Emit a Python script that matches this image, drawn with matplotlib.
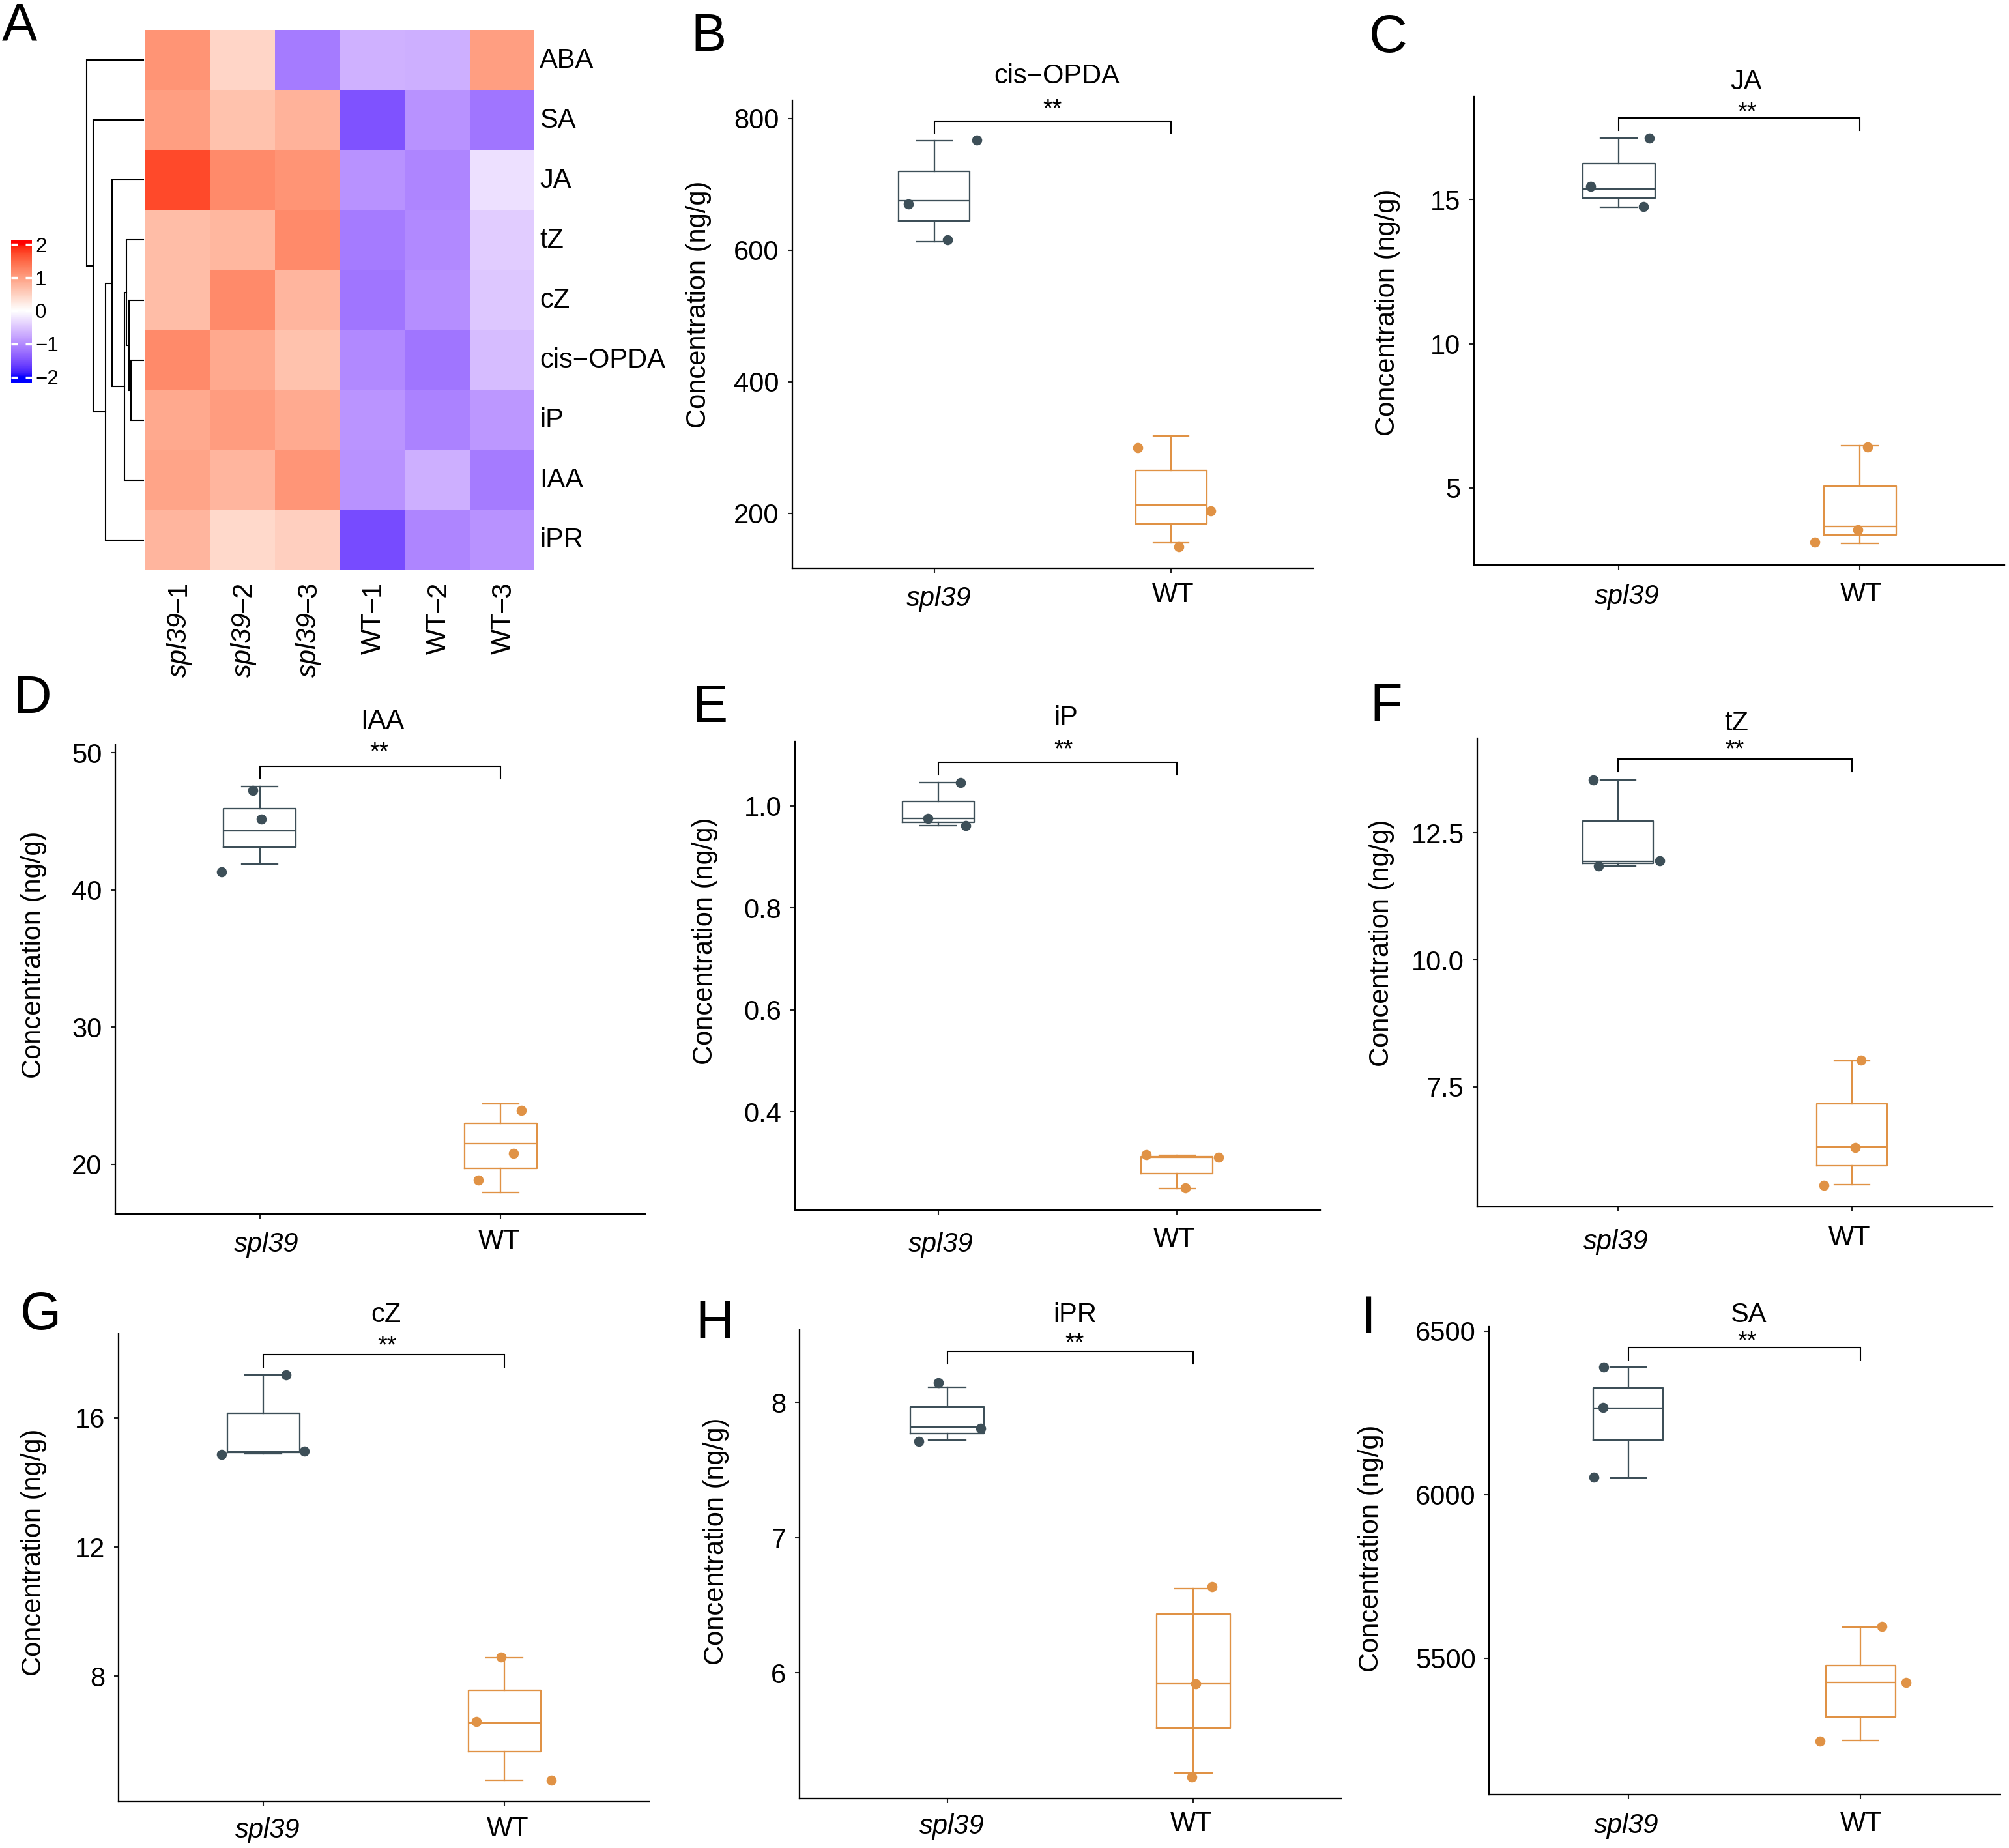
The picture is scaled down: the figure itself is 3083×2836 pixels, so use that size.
import matplotlib
matplotlib.use("Agg")
import matplotlib.pyplot as plt
import numpy as np
from matplotlib.colors import LinearSegmentedColormap, to_rgb
from matplotlib.transforms import ScaledTranslation, blended_transform_factory

plt.rcParams['font.family'] = ['Liberation Sans', 'DejaVu Sans']

W, H, DPI = 3083, 2836, 300

# ---- heatmap data (z-scores)
hormones = ['ABA', 'SA', 'JA', 'tZ', 'cZ', 'cis−OPDA', 'iP', 'IAA', 'iPR']
sample_names = ['spl39', 'spl39', 'spl39', 'WT', 'WT', 'WT']
sample_reps = ['−1', '−2', '−3', '−1', '−2', '−3']
aba = [1.10, 0.45, -1.15, -0.68, -0.70, 1.00]
sa = [1.00, 0.65, 0.80, -1.50, -0.95, -1.20]
ja = [1.72, 1.20, 1.10, -0.95, -1.05, -0.27]
tz = [0.70, 0.75, 1.20, -1.15, -1.02, -0.45]
cz = [0.70, 1.20, 0.78, -1.20, -0.97, -0.50]
opda = [1.20, 0.90, 0.65, -1.02, -1.20, -0.58]
ip = [0.90, 1.03, 0.88, -0.93, -1.08, -0.90]
iaa = [0.95, 0.78, 1.08, -0.95, -0.70, -1.15]
ipr = [0.78, 0.42, 0.50, -1.55, -1.05, -0.95]

# dendrogram: (child a, child b, height); children >= 9 are earlier merges
tree_a = [5, 4, 3, 9 + 2, 2, 8, 1, 0]
tree_b = [6, 9 + 0, 9 + 1, 7, 9 + 3, 9 + 4, 9 + 5, 9 + 6]
tree_h = [0.28, 0.32, 0.38, 0.43, 0.71, 0.86, 1.14, 1.29]

legend_ticks = [2, 1, 0, -1, -2]
legend_labels = ['2', '1', '0', '−1', '−2']

# ---- boxplot data, panels B to I
panel_titles = ['cis−OPDA', 'JA', 'IAA', 'iP', 'tZ', 'cZ', 'iPR', 'SA']
groups = ['spl39', 'WT']
# whisker low, q1, median, q3, whisker high
spl39_box = [
    [612.8, 644, 675, 720, 766],
    [14.74, 15.05, 15.38, 16.26, 17.13],
    [41.9, 43.1, 44.3, 45.91, 47.55],
    [0.961, 0.968, 0.975, 1.009, 1.045],
    [11.85, 11.90, 11.945, 12.74, 13.55],
    [14.89, 14.92, 14.95, 16.13, 17.33],
    [7.723, 7.771, 7.819, 7.965, 8.109],
    [6052, 6167, 6265, 6326, 6389],
]
wt_box = [
    [155, 184, 212.6, 265, 318],
    [3.07, 3.37, 3.66, 5.06, 6.47],
    [17.93, 19.7, 21.5, 22.98, 24.42],
    [0.249, 0.279, 0.311, 0.312, 0.314],
    [5.57, 5.94, 6.32, 7.17, 8.01],
    [4.77, 5.66, 6.55, 7.57, 8.58],
    [5.26, 5.59, 5.92, 6.434, 6.622],
    [5249, 5321, 5426, 5478, 5596],
]
# jittered points
spl39_x = [[0.889, 1.056, 1.178], [0.883, 1.103, 1.127], [0.972, 1.007, 0.840],
           [1.092, 0.957, 1.116], [0.894, 0.918, 1.179], [1.095, 0.826, 1.171],
           [0.963, 1.135, 0.885], [0.894, 0.892, 0.851]]
spl39_y = [[670, 615.8, 767], [15.47, 14.75, 17.14], [47.27, 45.14, 41.3],
           [1.045, 0.975, 0.961], [13.55, 11.85, 11.95], [17.33, 14.86, 14.96],
           [8.146, 7.809, 7.713], [6390, 6266, 6053]]
wt_x = [[1.859, 2.167, 2.033], [2.033, 1.991, 1.814], [2.086, 2.053, 1.907],
        [1.872, 2.174, 2.035], [2.039, 2.014, 1.881], [1.986, 1.884, 2.195],
        [2.076, 2.010, 1.993], [2.093, 2.197, 1.826]]
wt_y = [[299.6, 204, 149], [6.43, 3.56, 3.13], [23.93, 20.79, 18.85],
        [0.316, 0.310, 0.251], [8.03, 6.30, 5.56], [8.59, 6.60, 4.78],
        [6.638, 5.92, 5.229], [5597, 5427, 5248]]
bracket_top = [796, 17.83, 49.0, 1.085, 13.955, 17.95, 8.378, 6450]
bracket_low = [777.6, 17.41, 48.12, 1.061, 13.71, 17.57, 8.285, 6412]
y_limits = [(116.6, 827.6), (2.33, 18.58), (16.37, 50.58), (0.207, 1.126),
            (5.137, 14.366), (4.11, 18.6), (5.072, 8.535), (5084, 6513)]
y_ticks = [[200, 400, 600, 800], [5, 10, 15], [20, 30, 40, 50], [0.4, 0.6, 0.8, 1.0],
           [7.5, 10, 12.5], [8, 12, 16], [6, 7, 8], [5500, 6000, 6500]]
y_tick_labels = [['200', '400', '600', '800'], ['5', '10', '15'], ['20', '30', '40', '50'],
                 ['0.4', '0.6', '0.8', '1.0'], ['7.5', '10.0', '12.5'], ['8', '12', '16'],
                 ['6', '7', '8'], ['5500', '6000', '6500']]

# ---- layout in pixels of the reference
axes_px = [(1216, 154, 2015, 872), (2262, 148, 3076, 867), (177, 1143, 990, 1863),
           (1220, 1138, 2026, 1857), (2267, 1133, 3058, 1852), (182, 2047, 996, 2765),
           (1227, 2041, 2058, 2760), (2285, 2036, 3069, 2754)]
title_px = [(1622, 128), (2680, 137), (587, 1118), (1636, 1113),
            (2665, 1121), (592, 2029), (1650, 2029), (2683, 2029)]
stars_px = [(1615, 156), (2681, 161), (582, 1143), (1632, 1139),
            (2662, 1139), (594, 2054), (1649, 2050), (2681, 2047)]
ylabel_px = [(1072, 467), (2129, 479), (52, 1465), (1082, 1444),
             (2120, 1447), (52, 2382), (1099, 2365), (2104, 2376)]
# x offset of the spl39 / WT labels, gap below the axis, extra drop of spl39
spl39_dx = [7, 13, 10, 4, -3, 7, 7, -3]
wt_dx = [3, 2, -2, -4, -4, 5, -3, 1]
label_gap = [21, 25, 22, 25, 28, 22, 19, 25]
spl39_drop = [6, 4, 5, 8, 6, 2, 4, 3]
letters = ['A', 'B', 'C', 'D', 'E', 'F', 'G', 'H', 'I']
letters_px = [(3, 62), (1060, 78), (2101, 80), (20, 1094), (1062, 1108),
              (2102, 1106), (31, 2040), (1067, 2053), (2088, 2046)]

SLATE = '#3D4F58'
ORANGE = '#E09245'


def axes_from_px(fig, left, top, right, bottom):
    return fig.add_axes([left / W, 1 - bottom / H, (right - left) / W, (bottom - top) / H])


def srgb_to_lab(c):
    c = np.array(to_rgb(c))
    lin = np.where(c > 0.04045, ((c + 0.055) / 1.055) ** 2.4, c / 12.92)
    m = np.array([[0.4124, 0.3576, 0.1805], [0.2126, 0.7152, 0.0722], [0.0193, 0.1192, 0.9505]])
    xyz = m @ lin / np.array([0.9505, 1.0, 1.089])
    f = np.where(xyz > 0.008856, np.cbrt(xyz), 7.787 * xyz + 16 / 116)
    return np.array([116 * f[1] - 16, 500 * (f[0] - f[1]), 200 * (f[1] - f[2])])


def lab_to_srgb(lab):
    fy = (lab[0] + 16) / 116
    f = np.array([fy + lab[1] / 500, fy, fy - lab[2] / 200])
    xyz = np.where(f ** 3 > 0.008856, f ** 3, (f - 16 / 116) / 7.787) * np.array([0.9505, 1.0, 1.089])
    m = np.array([[3.2406, -1.5372, -0.4986], [-0.9689, 1.8758, 0.0415], [0.0557, -0.2040, 1.0570]])
    lin = np.clip(m @ xyz, 0, 1)
    return np.where(lin > 0.0031308, 1.055 * lin ** (1 / 2.4) - 0.055, 12.92 * lin)


# blue - white - red ramp, interpolated in Lab like the original heatmap
lab_blue, lab_white, lab_red = srgb_to_lab('#0000FF'), srgb_to_lab('#FFFFFF'), srgb_to_lab('#FF0000')
ramp = [lab_to_srgb(lab_blue + t * (lab_white - lab_blue)) for t in np.linspace(0, 1, 64)]
ramp += [lab_to_srgb(lab_white + t * (lab_red - lab_white)) for t in np.linspace(0, 1, 64)]
cmap = LinearSegmentedColormap.from_list('bwr_lab', ramp, N=256)

fig = plt.figure(figsize=(W / DPI, H / DPI), dpi=DPI, facecolor='white')

# ---- panel A heatmap
heat_ax = axes_from_px(fig, 223, 46, 820, 875)
matrix = np.array([aba, sa, ja, tz, cz, opda, ip, iaa, ipr])
heat_ax.pcolormesh(matrix, cmap=cmap, vmin=-2, vmax=2, linewidth=0, rasterized=True)
heat_ax.set_ylim(len(hormones), 0)
heat_ax.set_yticks(np.arange(len(hormones)) + 0.5, hormones, fontsize=10)
heat_ax.yaxis.tick_right()
heat_ax.tick_params(axis='y', length=0, pad=2)
for row_label in heat_ax.get_yticklabels():
    row_label.set_transform(row_label.get_transform() + ScaledTranslation(0, 4 / DPI, fig.dpi_scale_trans))
heat_ax.set_xticks([])
for side in heat_ax.spines.values():
    side.set_visible(False)

# column labels: italic line name + upright replicate, reading upwards
renderer = fig.canvas.get_renderer()
col_trans = blended_transform_factory(heat_ax.transData, fig.transFigure)
col_trans = col_trans + ScaledTranslation(13 / DPI, 0, fig.dpi_scale_trans)
label_end = 1 - 892 / H
for i, (name, rep) in enumerate(zip(sample_names, sample_reps)):
    rep_text = heat_ax.text(i + 0.5, label_end, rep, transform=col_trans, rotation=90, fontsize=10,
                            ha='right', va='baseline', rotation_mode='anchor', clip_on=False)
    rep_len = rep_text.get_window_extent(renderer).height
    heat_ax.text(i + 0.5, label_end - rep_len / H, name, transform=col_trans, rotation=90, fontsize=10,
                 style='italic' if name == 'spl39' else 'normal',
                 ha='right', va='baseline', rotation_mode='anchor', clip_on=False)

# dendrogram, built from the merge table
tree_ax = axes_from_px(fig, 133, 46, 220, 875)
tree_ax.set_xlim(max(tree_h), 0)
tree_ax.set_ylim(len(hormones), 0)
tree_ax.axis('off')
nodes = [(0.0, i + 0.5) for i in range(len(hormones))]
for a, b, h in zip(tree_a, tree_b, tree_h):
    xa, ya = nodes[a]
    xb, yb = nodes[b]
    tree_ax.plot([xa, h, h, xb], [ya, ya, yb, yb], color='black', lw=0.5, clip_on=False,
                 solid_joinstyle='miter')
    nodes.append((h, (ya + yb) / 2))

# colour key
key_ax = axes_from_px(fig, 17, 368, 49, 587)
key_values = np.linspace(2.14, -2.16, 256).reshape(-1, 1)
key_ax.imshow(key_values, cmap=cmap, vmin=-2, vmax=2, aspect='auto', extent=(0, 1, -2.16, 2.14))
key_ax.set_xticks([])
key_ax.set_yticks(legend_ticks, legend_labels, fontsize=7.5)
key_ax.yaxis.tick_right()
key_ax.tick_params(axis='y', direction='in', left=True, right=True, color='white',
                   length=2.5, width=0.8, pad=1.2)
for side in key_ax.spines.values():
    side.set_visible(False)

# ---- panels B to I
for i, title in enumerate(panel_titles):
    ax = axes_from_px(fig, *axes_px[i])
    for pos, box, col in ((1, spl39_box[i], SLATE), (2, wt_box[i], ORANGE)):
        lo, q1, med, q3, hi = box
        stats = [{'whislo': lo, 'q1': q1, 'med': med, 'q3': q3, 'whishi': hi, 'fliers': []}]
        line = {'color': col, 'linewidth': 0.55}
        ax.bxp(stats, positions=[pos], widths=0.3, capwidths=0.15, showfliers=False,
               boxprops=line, medianprops=line, whiskerprops=line, capprops=line, manage_ticks=False)
    ax.scatter(spl39_x[i], spl39_y[i], s=14, color=SLATE, linewidths=0, zorder=4, clip_on=False)
    ax.scatter(wt_x[i], wt_y[i], s=14, color=ORANGE, linewidths=0, zorder=4, clip_on=False)
    if title == 'iPR':
        # the whisker runs through the WT box in this panel
        ax.plot([2, 2], [wt_box[i][1], wt_box[i][3]], color=ORANGE, lw=0.55)

    ax.plot([1, 1, 2, 2], [bracket_low[i], bracket_top[i], bracket_top[i], bracket_low[i]],
            color='black', lw=0.5, solid_joinstyle='miter', clip_on=False)

    ax.set_xlim(0.4, 2.6)
    ax.set_ylim(*y_limits[i])
    ax.spines['top'].set_visible(False)
    ax.spines['right'].set_visible(False)
    ax.spines['left'].set_linewidth(0.55)
    ax.spines['bottom'].set_linewidth(0.55)
    ax.set_yticks(y_ticks[i], y_tick_labels[i], fontsize=10)
    ax.set_xticks([1, 2], groups, fontsize=10)
    ax.tick_params(axis='both', length=1.7, width=0.5, color='#222222')
    ax.tick_params(axis='y', pad=3.2)
    ax.tick_params(axis='x', pad=0)

    # hand-placed group labels in the original
    tick_drop = label_gap[i] - 7
    spl_label, wt_label = ax.get_xticklabels()
    spl_label.set_style('italic')
    spl_label.set_transform(spl_label.get_transform() + ScaledTranslation(
        spl39_dx[i] / DPI, -(tick_drop + spl39_drop[i]) / DPI, fig.dpi_scale_trans))
    wt_label.set_transform(wt_label.get_transform() + ScaledTranslation(
        wt_dx[i] / DPI, -tick_drop / DPI, fig.dpi_scale_trans))

    ax.set_ylabel('Concentration (ng/g)', fontsize=10, va='center', ha='center')
    ax.yaxis.set_label_coords(ylabel_px[i][0] / W, 1 - ylabel_px[i][1] / H, transform=fig.transFigure)

    fig.text(title_px[i][0] / W, 1 - title_px[i][1] / H, title, fontsize=10, ha='center', va='baseline')
    fig.text(stars_px[i][0] / W, 1 - (stars_px[i][1] + 22) / H, '**', fontsize=9, ha='center', va='baseline')

for letter, (x, y) in zip(letters, letters_px):
    fig.text(x / W, 1 - y / H, letter, fontsize=19.5, ha='left', va='baseline')

fig.savefig('out.png', dpi=DPI)
